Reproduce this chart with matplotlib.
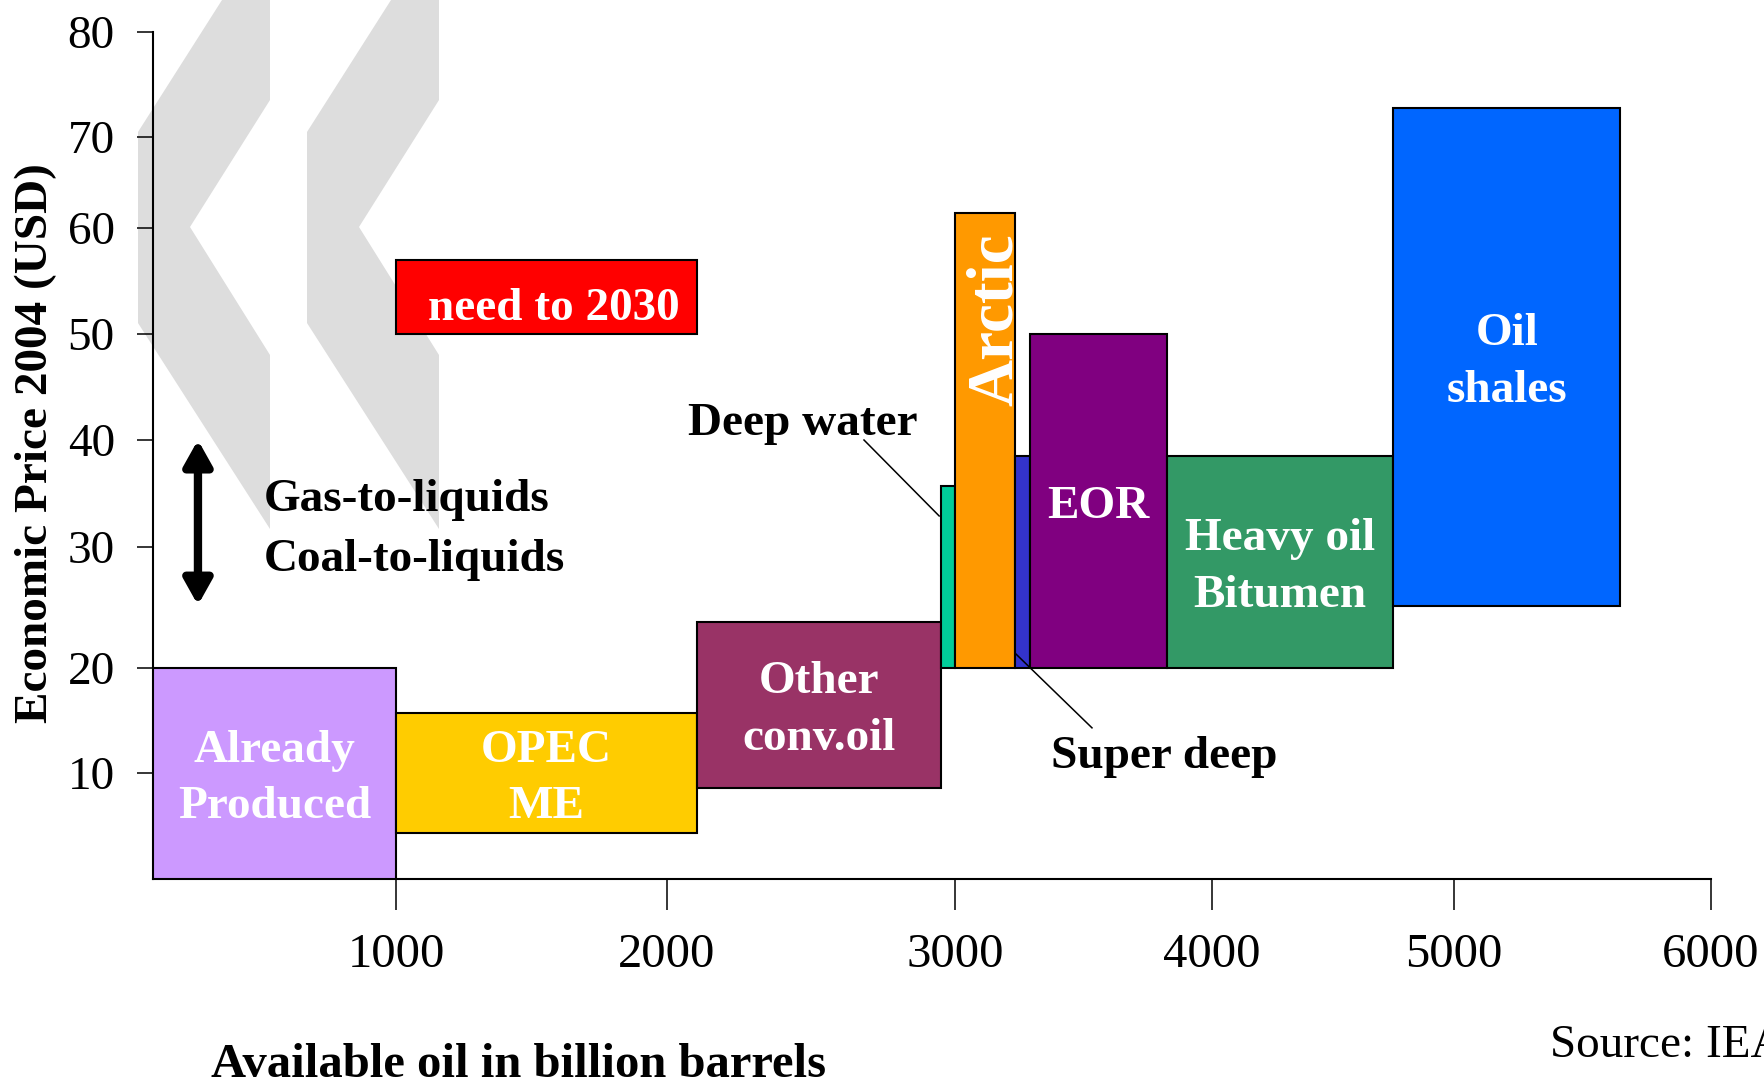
import numpy as np
import matplotlib.pyplot as plt
from matplotlib.patches import Polygon

plt.rcParams['font.family'] = ['Liberation Serif', 'DejaVu Serif']

# supply categories: range of available oil (billion barrels) and price band (USD 2004)
names = ['Already\nProduced', 'OPEC\nME', 'Other\nconv.oil', 'Deep water', 'Arctic',
         'Super deep', 'EOR', 'Heavy oil\nBitumen', 'Oil\nshales']
x_start = [0, 1000, 2105, 2950, 3000, 3235, 3290, 3825, 4750]
x_end = [1000, 2105, 2950, 3000, 3235, 3290, 3825, 4750, 5645]
price_low = [0, 4.3, 8.6, 20, 20, 20, 20, 20, 25.1]
price_high = [20, 15.7, 23.8, 35.7, 61.6, 38.5, 50, 38.5, 72.8]
colors = ['#CC99FF', '#FFCC00', '#993366', '#00CC99', '#FF9900',
          '#3333CC', '#800080', '#339966', '#0066FF']

# demand to 2030 and the gas/coal-to-liquids cost range
need_x = [1000, 2105]
need_price = [50, 57]
gtl_price = [25.2, 40]

x_ticks = [1000, 2000, 3000, 4000, 5000, 6000]
y_ticks = [10, 20, 30, 40, 50, 60, 70, 80]

# the drawn axes are not evenly spaced, so map each tick onto its own spacing
x_knots = [0, 1000, 2000, 3000, 4000, 5000, 6000]
x_spacing = [0, 243, 514, 802, 1059, 1301, 1558]
y_knots = [0, 10, 20, 30, 40, 50, 60, 70, 80]
y_spacing = [0, 106, 211, 332, 439, 545, 651, 742, 847]


def make_scale(knots, spacing):
    fwd = lambda v: np.interp(v, knots, spacing)
    inv = lambda v: np.interp(v, spacing, knots)
    return fwd, inv


W, H = 1764, 1088
fig = plt.figure(figsize=(W / 100, H / 100), dpi=100)
ax = fig.add_axes([153 / W, 1 - 879 / H, (1711 - 153) / W, (879 - 32) / H])
ax.set_facecolor('none')

xf, xi = make_scale(x_knots, x_spacing)
yf, yi = make_scale(y_knots, y_spacing)
ax.set_xscale('function', functions=(xf, xi))
ax.set_yscale('function', functions=(yf, yi))

# grey chevrons in the background (figure pixels)
chevron = np.array([(138, 132), (222, 0), (270, 0), (270, 100), (190, 227),
                    (270, 355), (270, 529), (138, 323)], dtype=float)
for dx in (0, 169):
    pts = chevron + [dx, 0]
    fig.add_artist(Polygon(np.c_[pts[:, 0] / W, 1 - pts[:, 1] / H], closed=True,
                           transform=fig.transFigure, facecolor='#DDDDDD',
                           edgecolor='none', zorder=-1))

widths = np.subtract(x_end, x_start)
heights = np.subtract(price_high, price_low)
ax.bar(x_start, heights, width=widths, bottom=price_low, align='edge',
       color=colors, edgecolor='black', linewidth=1.5, zorder=3)
ax.bar(need_x[0], need_price[1] - need_price[0], width=need_x[1] - need_x[0],
       bottom=need_price[0], align='edge', color='#FF0000', edgecolor='black',
       linewidth=1.5, zorder=3)

bold = dict(fontsize=34, fontweight='bold')


def middle(lo, hi, fwd, inv):
    return float(inv((fwd(lo) + fwd(hi)) / 2))


for name, x0, x1, lo, hi in zip(names, x_start, x_end, price_low, price_high):
    if name in ('Deep water', 'Super deep', 'Arctic'):
        continue
    ax.annotate(name, xy=(middle(x0, x1, xf, xi), middle(lo, hi, yf, yi)),
                xytext=(0, -4), textcoords='offset points', color='white',
                ha='center', va='center', linespacing=1.45, zorder=4, **bold)

ax.annotate('Arctic', xy=(middle(x_start[4], x_end[4], xf, xi), price_high[4]),
            xytext=(8, -14), textcoords='offset points', rotation=90,
            ha='center', va='top', color='white', fontsize=47,
            fontweight='bold', zorder=4)

ax.annotate('need to 2030', xy=(middle(need_x[0], need_x[1], xf, xi),
                                middle(need_price[0], need_price[1], yf, yi)),
            xytext=(5, -9), textcoords='offset points', color='white',
            ha='center', va='center', zorder=4, **bold)

# leader lines for the narrow categories
ax.text(2472, 41.5, 'Deep water', ha='center', va='center', zorder=4, **bold)
ax.plot([2684, x_start[3] - 5], [40, 32.9], color='black', lw=1.1, zorder=4)
ax.text(3813, 11.5, 'Super deep', ha='center', va='center', zorder=4, **bold)
ax.plot([x_start[5], 3533], [21.2, 14.3], color='black', lw=1.1, zorder=4)

# gas-to-liquids / coal-to-liquids price range
ax.annotate('', xy=(185, gtl_price[1]), xytext=(185, gtl_price[0]),
            arrowprops=dict(arrowstyle='<|-|>,head_length=0.75,head_width=0.42',
                            mutation_scale=20, lw=6, color='black',
                            shrinkA=0, shrinkB=0), zorder=4)
ax.text(457, 34.4, 'Gas-to-liquids', ha='left', va='center', **bold)
ax.text(457, 28.9, 'Coal-to-liquids', ha='left', va='center', **bold)

ax.set_xlim(0, 6000)
ax.set_ylim(0, 80)
ax.set_xticks(x_ticks)
ax.set_yticks(y_ticks)
ax.tick_params(axis='x', length=22, width=1.1, pad=17, labelsize=35, direction='out')
ax.tick_params(axis='y', length=11.5, width=1.1, pad=16, labelsize=34, direction='out')
for side in ('top', 'right'):
    ax.spines[side].set_visible(False)
for side in ('left', 'bottom'):
    ax.spines[side].set_linewidth(1.5)

fig.text(36 / W, 1 - 443 / H, 'Economic Price 2004 (USD)', rotation=90,
         ha='center', va='center', **bold)
fig.text(519 / W, 1 - 1077 / H, 'Available oil in billion barrels',
         ha='center', va='baseline', fontsize=35, fontweight='bold')
fig.text(1550 / W, 1 - 1057 / H, 'Source: IEA', ha='left', va='baseline', fontsize=34)

fig.savefig('out.png', dpi=100)
